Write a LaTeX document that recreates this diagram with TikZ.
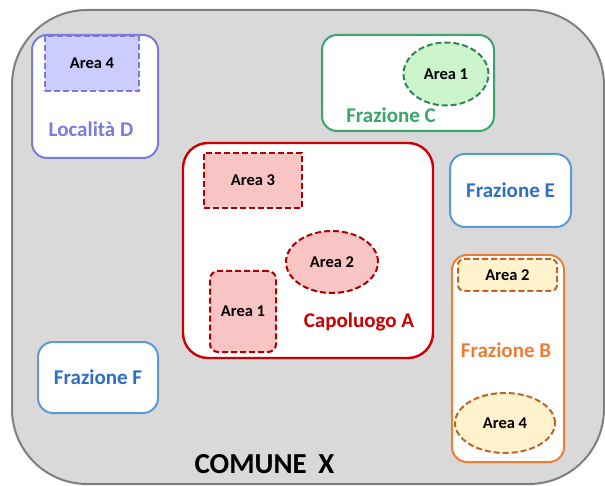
\documentclass[tikz,border=0pt]{standalone}
\usepackage{fontspec}
\setmainfont{Carlito}
\usetikzlibrary{shapes.geometric}
\definecolor{grigio}{HTML}{D9D9D9}
\definecolor{grigiobordo}{HTML}{7F7F7F}
\definecolor{viola}{HTML}{7B7BDD}
\definecolor{violachiaro}{HTML}{CCCCFF}
\definecolor{verde}{HTML}{3AA66A}
\definecolor{verdechiaro}{HTML}{CCF5CC}
\definecolor{blu}{HTML}{5B9BD5}
\definecolor{blutesto}{HTML}{2E6FC4}
\definecolor{rosso}{HTML}{CC0000}
\definecolor{rossochiaro}{HTML}{F8C4C4}
\definecolor{arancio}{HTML}{ED7D31}
\definecolor{gialloch}{HTML}{FFF2CC}
\begin{document}
\begin{tikzpicture}[x=1pt,y=-1pt]
\tikzset{zona/.style={draw, rounded corners=15pt, line width=2pt, fill=white, inner sep=0pt},
  area/.style={draw, dashed, dash pattern=on 6pt off 3pt, line width=2pt, inner sep=0pt, font=\bfseries\fontsize{16.5}{16.5}\selectfont},
  nome/.style={font=\bfseries\fontsize{21}{21}\selectfont}}
\useasboundingbox (0,0) rectangle (605,486);
\node[draw=grigiobordo, fill=grigio, line width=2pt, rounded corners=75pt, inner sep=0pt,
  minimum width=592pt, minimum height=474pt] (comune) at (308,247) {};
\node[font=\bfseries\fontsize{29}{29}\selectfont] (titolo) at (264.5,464) {COMUNE\hspace{0.4em}X};
\node[zona, draw=viola, minimum width=126pt, minimum height=123pt] (locD) at (95,96.5) {};
\node[area, draw=viola, fill=violachiaro, minimum width=94pt, minimum height=55pt] (D4) at (92,63.5) {Area 4};
\node[nome, text=viola] (nomeD) at (91,129) {Località D};
\node[zona, draw=verde, minimum width=172pt, minimum height=96pt] (frazC) at (408,83) {};
\node[area, ellipse, draw=verde!80!black, fill=verdechiaro, minimum width=85pt, minimum height=63pt] (C1) at (446,74) {Area 1};
\node[nome, text=verde] (nomeC) at (391,115) {Frazione C};
\node[zona, draw=blu, nome, text=blutesto, minimum width=121pt, minimum height=73pt] (frazE) at (510.5,190.5) {Frazione E};
\node[zona, draw=rosso, line width=2.4pt, rounded corners=25pt, minimum width=250pt, minimum height=215pt] (capA) at (308,250.5) {};
\node[area, draw=rosso!85!black, fill=rossochiaro, minimum width=98pt, minimum height=55pt] (A3) at (253,180.5) {Area 3};
\node[area, ellipse, draw=rosso!85!black, fill=rossochiaro, minimum width=92pt, minimum height=62pt] (A2) at (332,262) {Area 2};
\node[area, rounded corners=8pt, draw=rosso!85!black, fill=rossochiaro, minimum width=66pt, minimum height=81pt] (A1) at (243,311.5) {Area 1};
\node[nome, text=rosso] (nomeA) at (359,322) {Capoluogo A};
\node[zona, draw=blu, nome, text=blutesto, minimum width=120pt, minimum height=71pt] (frazF) at (98,377.5) {Frazione F};
\node[zona, draw=arancio, minimum width=112pt, minimum height=207pt] (frazB) at (508,358.5) {};
\node[area, rounded corners=6pt, draw=arancio!80!black, fill=gialloch, minimum width=99pt, minimum height=32pt] (B2) at (507.5,275) {Area 2};
\node[nome, text=arancio] (nomeB) at (506,350) {Frazione B};
\node[area, ellipse, draw=arancio!80!black, fill=gialloch, minimum width=100pt, minimum height=60pt] (B4) at (505,423) {Area 4};
\end{tikzpicture}
\end{document}
